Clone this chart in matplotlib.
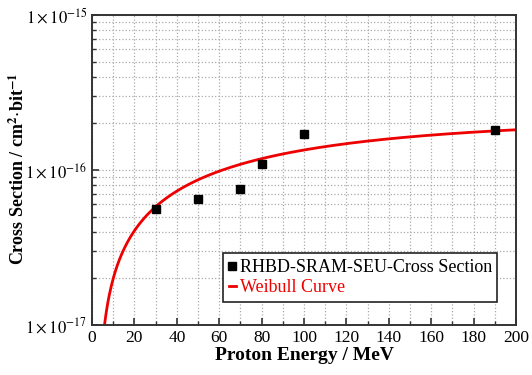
import numpy as np
import matplotlib
matplotlib.use('Agg')
import matplotlib.pyplot as plt
from matplotlib.ticker import MultipleLocator, LogLocator, NullFormatter

# measured points
energy = [30, 50, 70, 80, 100, 190]
xsec = [5.6e-17, 6.5e-17, 7.5e-17, 1.1e-16, 1.72e-16, 1.82e-16]

# Weibull fit parameters
sigma_sat = 2.16e-16
e0 = 2.5
width = 100.0
shape = 0.9

ytick_vals = [1e-17, 1e-16, 1e-15]
ytick_labels = [r'$1\times10^{-17}$', r'$1\times10^{-16}$', r'$1\times10^{-15}$']

plt.rcParams['font.family'] = ['Liberation Serif', 'DejaVu Serif']
plt.rcParams['mathtext.fontset'] = 'stix'

fig = plt.figure(figsize=(5.32, 3.75), dpi=100)
ax = fig.add_axes([0.173, 0.133, 0.797, 0.827])

e_fit = np.linspace(e0 + 0.01, 200, 600)
s_fit = sigma_sat * (1 - np.exp(-((e_fit - e0) / width) ** shape))

ax.plot(energy, xsec, 's', color='black', markersize=6, label='RHBD-SRAM-SEU-Cross Section', zorder=3)
ax.plot(e_fit, s_fit, '-', color='#ee0000', linewidth=2, label='Weibull Curve', zorder=2)

ax.set_yscale('log')
ax.set_xlim(0, 200)
ax.set_ylim(1e-17, 1e-15)
ax.xaxis.set_major_locator(MultipleLocator(20))
ax.xaxis.set_minor_locator(MultipleLocator(10))
ax.set_yticks(ytick_vals)
ax.set_yticklabels(ytick_labels)
ax.yaxis.set_minor_locator(LogLocator(base=10, subs=np.arange(2, 10)))
ax.yaxis.set_minor_formatter(NullFormatter())

ax.grid(True, which='both', linestyle=':', color='#aaaaaa', linewidth=0.9)
ax.tick_params(which='both', direction='in', labelsize=12.5, colors='#333333', labelcolor='black')
ax.tick_params(axis='y', labelsize=12)
ax.tick_params(which='major', length=5, width=1.2)
ax.tick_params(which='minor', length=3, width=1)
for sp in ax.spines.values():
    sp.set_linewidth(1.4)
    sp.set_color('#333333')

ax.set_xlabel('Proton Energy / MeV', fontsize=14, fontweight='bold', labelpad=1)
ax.set_ylabel(r'Cross Section / cm$^{\mathbf{2}}$$\cdot$bit$^{\mathbf{-1}}$', fontsize=13, fontweight='bold')
ax.yaxis.set_label_coords(-0.15, 0.505)

leg = ax.legend(loc='lower right', bbox_to_anchor=(0.956, 0.075), fontsize=13,
                handlelength=0.4, handletextpad=0.2, borderpad=0.3, labelspacing=0.2,
                fancybox=False, framealpha=1, edgecolor='#222222', borderaxespad=0)
leg.get_frame().set_linewidth(1.2)
leg.get_texts()[1].set_color('#ee0000')

fig.savefig('out.png', dpi=100)
